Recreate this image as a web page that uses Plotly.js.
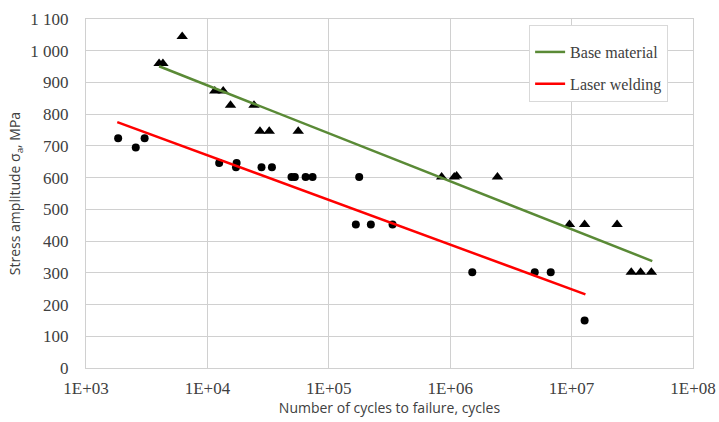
<!DOCTYPE html>
<html>
<head>
<meta charset="utf-8">
<script src="https://cdn.plot.ly/plotly-3.0.1.min.js"></script>
<style>html,body{margin:0;padding:0;background:#fff;}#chart{width:719px;height:422px;}</style>
</head>
<body>
<div id="chart"></div>
<script>
// Base material test points (cycles, stress amplitude MPa)
const baseCycles = [4.0e3, 4.3e3, 6.2e3, 1.15e4, 1.35e4, 1.55e4, 2.42e4, 2.71e4, 3.23e4, 5.6e4,
                    8.5e5, 1.08e6, 1.13e6, 2.45e6, 9.6e6, 1.28e7, 2.37e7, 3.1e7, 3.7e7, 4.54e7];
const baseStress = [960, 960, 1045, 873, 873, 828, 828, 746, 746, 746,
                    602, 602, 605, 602, 452, 452, 452, 302, 302, 302];
// Laser welding test points
const laserCycles = [1.84e3, 2.57e3, 3.04e3, 1.25e4, 1.74e4, 1.72e4, 2.79e4, 3.4e4, 4.93e4, 5.25e4, 6.44e4, 7.35e4,
                     1.78e5, 1.67e5, 2.22e5, 3.35e5, 1.52e6, 4.97e6, 6.73e6, 1.28e7];
const laserStress = [724, 695, 724, 646, 646, 633, 633, 633, 602, 602, 602, 602,
                     602, 452, 452, 452, 302, 302, 302, 150];
// Trend lines (endpoints)
const baseTrendCycles = [4.0e3, 4.62e7];
const baseTrendStress = [951, 337];
const laserTrendCycles = [1.81e3, 1.3e7];
const laserTrendStress = [775, 232];
// Tick labels
const xTickVals = [1e3, 1e4, 1e5, 1e6, 1e7, 1e8];
const xTickText = ["1E+03", "1E+04", "1E+05", "1E+06", "1E+07", "1E+08"];
const yTickVals = [0, 100, 200, 300, 400, 500, 600, 700, 800, 900, 1000, 1100];
const yTickText = ["0", "100", "200", "300", "400", "500", "600", "700", "800", "900", "1 000", "1 100"];

const SERIF = 'Liberation Serif';
const SANS = 'Open Sans';

const traces = [
  {x: baseCycles, y: baseStress, type: 'scatter', mode: 'markers', showlegend: false,
   marker: {symbol: 'triangle-up', size: 10, color: '#000'}},
  {x: laserCycles, y: laserStress, type: 'scatter', mode: 'markers', showlegend: false,
   marker: {symbol: 'circle', size: 8, color: '#000'}},
  {x: baseTrendCycles, y: baseTrendStress, type: 'scatter', mode: 'lines', name: 'Base material',
   legendgroup: 'a', line: {color: '#5a8a36', width: 2.5}},
  {x: laserTrendCycles, y: laserTrendStress, type: 'scatter', mode: 'lines', name: 'Laser welding',
   legendgroup: 'b', line: {color: '#ff0000', width: 2.5}}
];

const layout = {
  width: 719, height: 422,
  margin: {l: 86, r: 26, t: 19, b: 54},
  paper_bgcolor: '#fff', plot_bgcolor: '#fff',
  showlegend: true,
  legend: {x: 0.73, y: 0.983, xanchor: 'left', yanchor: 'top',
           bordercolor: '#d9d9d9', borderwidth: 1, bgcolor: '#fff',
           font: {family: SERIF, size: 16, color: '#404040'},
           title: {text: '\u00a0', font: {family: SERIF, size: 7}},
           entrywidth: 133, entrywidthmode: 'pixels',
           traceorder: 'grouped', tracegroupgap: 8},
  xaxis: {type: 'log', range: [3, 8], tickvals: xTickVals, ticktext: xTickText,
          showgrid: true, gridcolor: '#d0d0d0', gridwidth: 1,
          showline: true, linecolor: '#d0d0d0', mirror: true, zeroline: false,
          ticks: 'outside', ticklen: 5, tickcolor: 'rgba(0,0,0,0)',
          tickfont: {family: SERIF, size: 17, color: '#404040'},
          title: {text: 'Number of cycles to failure, cycles', standoff: 4,
                  font: {family: SANS, size: 14, color: '#404040'}}},
  yaxis: {range: [0, 1100], tickvals: yTickVals, ticktext: yTickText,
          showgrid: true, gridcolor: '#d0d0d0', gridwidth: 1,
          showline: true, linecolor: '#d0d0d0', mirror: true, zeroline: false,
          ticks: 'outside', ticklen: 13, tickcolor: 'rgba(0,0,0,0)',
          tickfont: {family: SERIF, size: 17, color: '#404040'},
          title: {text: 'Stress amplitude σ<sub>a</sub>, MPa', standoff: 6,
                  font: {family: SANS, size: 14, color: '#404040'}}}
};

Plotly.newPlot('chart', traces, layout, {displayModeBar: false, staticPlot: true});
</script>
</body>
</html>
